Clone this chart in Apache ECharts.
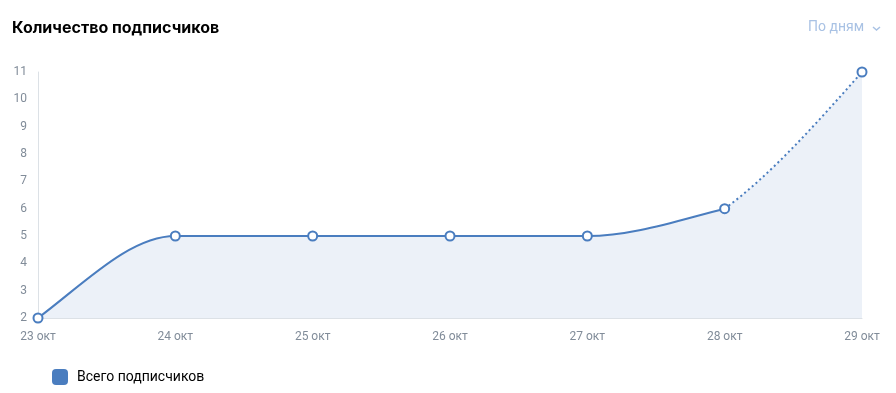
<!DOCTYPE html>
<html><head><meta charset="utf-8">
<script src="https://cdn.jsdelivr.net/npm/echarts@6/dist/echarts.min.js"></script>
<style>html,body{margin:0;padding:0;background:#fff;}#c{width:896px;height:393px;}</style>
</head><body><div id="c"></div>
<script>
const categories = ['23 окт','24 окт','25 окт','26 окт','27 окт','28 окт','29 окт'];
const values = [2,5,5,5,5,6,11];
const lastSolidIndex = 5; // segments after this index are drawn dotted
const yTicks = [2,3,4,5,6,7,8,9,10,11];
const seriesName = 'Всего подписчиков';
const titleText = 'Количество подписчиков';
const periodText = 'По дням';

const lineColor = '#4a7dbf';
const areaColor = '#ecf1f8';

// monotone cubic tangents (Fritsch–Carlson style), in pixel space
function tangents(p){
  const n=p.length, s=[], h=[], t=new Array(n).fill(0);
  for(let i=0;i<n-1;i++){h[i]=p[i+1][0]-p[i][0]; s[i]=(p[i+1][1]-p[i][1])/h[i];}
  for(let i=1;i<n-1;i++){
    const q=(s[i-1]*h[i]+s[i]*h[i-1])/(h[i-1]+h[i]);
    t[i]=(Math.sign(s[i-1])+Math.sign(s[i]))*Math.min(Math.abs(s[i-1]),Math.abs(s[i]),0.5*Math.abs(q))||0;
  }
  t[0]=(2.5*s[0]-t[1])/2;
  t[n-1]=(2.5*s[n-2]-t[n-2])/2;
  return t;
}
function seg(p,i,t0,t1){
  const dx=(p[i+1][0]-p[i][0])/3;
  return ' C'+(p[i][0]+dx)+' '+(p[i][1]+dx*t0)+' '+(p[i+1][0]-dx)+' '+(p[i+1][1]-dx*t1)+' '+p[i+1][0]+' '+p[i+1][1];
}

function renderLine(params, api){
  if(params.dataIndex!==0) return null;
  const p=values.map((v,i)=>api.coord([i,v]));
  const base=api.coord([0,yTicks[0]])[1];
  const solid=p.slice(0,lastSolidIndex+1);
  const ts=tangents(solid);
  const dp=p.slice(lastSolidIndex);
  const S=[];
  for(let i=0;i<p.length-1;i++) S[i]=(p[i+1][1]-p[i][1])/(p[i+1][0]-p[i][0]);
  const m=dp.length, td=new Array(m).fill(0);
  for(let i=0;i<m-1;i++){const k=lastSolidIndex+i; td[i]=(S[k-1]+2*S[k])/3;}
  td[m-1]=(3*S[p.length-2]-td[m-2])/2;
  let solidPath='M'+solid[0][0]+' '+solid[0][1];
  for(let i=0;i<solid.length-1;i++) solidPath+=seg(solid,i,ts[i],ts[i+1]);
  let dotBody='';
  for(let i=0;i<m-1;i++) dotBody+=seg(dp,i,td[i],td[i+1]);
  const dotPath='M'+dp[0][0]+' '+dp[0][1]+dotBody;
  const areaPath=solidPath+dotBody+' L'+p[p.length-1][0]+' '+base+' L'+p[0][0]+' '+base+' Z';
  return {type:'group',children:[
    {type:'path',shape:{pathData:areaPath},style:{fill:areaColor,stroke:null}},
    {type:'path',shape:{pathData:dotPath},style:{fill:null,stroke:lineColor,lineWidth:2,lineDash:[2,3]}},
    {type:'path',shape:{pathData:solidPath},style:{fill:null,stroke:lineColor,lineWidth:2}}
  ]};
}

const chart = echarts.init(document.getElementById('c'));
chart.setOption({
  animation:false,
  title:{text:titleText,left:7,top:15,textStyle:{fontFamily:'Inter',fontWeight:'bold',fontSize:16,color:'#000'}},
  graphic:[
    {type:'text',left:808,top:20,style:{text:periodText,fontFamily:'Roboto',fontSize:14,fill:'#a9c2e4'}},
    {type:'polyline',shape:{points:[[873,27],[876.5,30],[880,27]]},style:{stroke:'#a9c2e4',lineWidth:1.5,fill:null}}
  ],
  legend:{left:47,top:364,itemWidth:16,itemHeight:16,itemGap:10,icon:'roundRect',
    data:[{name:seriesName,itemStyle:{color:lineColor,borderWidth:0}}],
    textStyle:{fontFamily:'Roboto',fontSize:14,color:'#000',padding:[0,0,0,4]}},
  grid:{left:38,right:34,top:72,bottom:75,containLabel:false},
  xAxis:{type:'category',data:categories,boundaryGap:false,
    axisLine:{lineStyle:{color:'#dce1e6'}},axisTick:{show:false},
    axisLabel:{color:'#818c99',fontFamily:'Roboto',fontSize:12,margin:13,interval:0},
    splitLine:{show:false}},
  yAxis:{type:'value',min:yTicks[0],max:yTicks[yTicks.length-1],interval:1,
    axisLine:{show:true,lineStyle:{color:'#dce1e6'}},axisTick:{show:false},
    axisLabel:{color:'#818c99',fontFamily:'Roboto',fontSize:12,margin:11},
    splitLine:{show:false}},
  series:[
    {name:seriesName,type:'custom',renderItem:renderLine,data:values.map((v,i)=>[i,v]),
     encode:{x:0,y:1},itemStyle:{color:lineColor},clip:false,z:2},
    {name:seriesName,type:'scatter',data:values,symbol:'circle',symbolSize:9,
     itemStyle:{color:'#fff',borderColor:lineColor,borderWidth:2,opacity:1},z:4}
  ]
});
</script></body></html>
